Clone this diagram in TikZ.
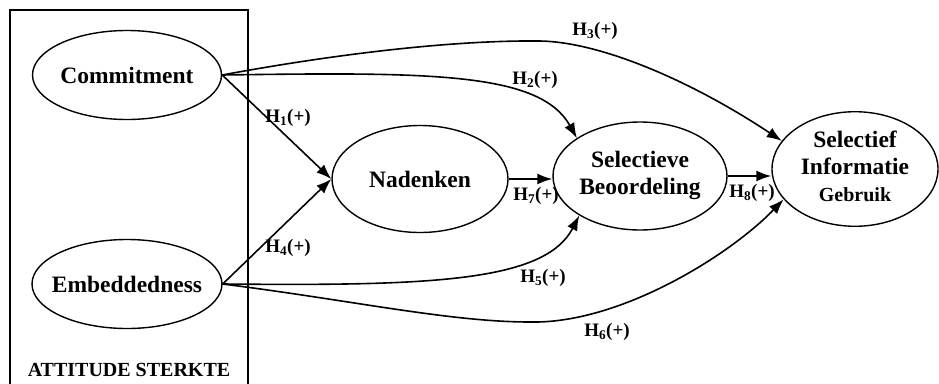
\documentclass[tikz,border=0pt]{standalone}
\usepackage{fontspec}
\setmainfont{Liberation Serif}
\usetikzlibrary{shapes.geometric,arrows.meta}
\begin{document}
\begin{tikzpicture}[x=1pt,y=-1pt,
  ell/.style={ellipse,draw,line width=1.4pt,inner sep=0pt,font=\fontsize{23.5}{27}\selectfont\bfseries},
  hyp/.style={font=\fontsize{19}{22}\selectfont\bfseries,inner sep=0pt},
  arr/.style={line width=1.6pt,-{Latex[length=15pt,width=11pt]}},
  frame/.style={line width=1.3pt}]
\useasboundingbox (0,0) rectangle (939,383);
\fill[white] (0,0) rectangle (939,383);
% group frame
\draw[frame] (10,395) -- (10,10) -- (248,10) -- (248,395);
\node[font=\fontsize{20}{24}\selectfont\bfseries,inner sep=0pt] (grp) at (129,370) {ATTITUDE STERKTE};
% constructs
\node[ell,minimum width=189pt,minimum height=89pt] (C) at (127,75) {\makebox[0pt]{Commitment}};
\node[ell,minimum width=190pt,minimum height=89pt] (E) at (127,284) {\makebox[0pt]{Embeddedness}};
\node[ell,minimum width=176pt,minimum height=107pt] (N) at (420,179) {\makebox[0pt]{Nadenken}};
\node[ell,minimum width=174pt,minimum height=108pt] (S) at (640,176) {\makebox[0pt]{\begin{tabular}{@{}c@{}}Selectieve\\Beoordeling\end{tabular}}};
\node[ell,minimum width=166pt,minimum height=108pt] (I) at (855,169) {\makebox[0pt]{\begin{tabular}{@{}c@{}}Selectief\\Informatie\\{\fontsize{20}{24}\selectfont Gebruik}\end{tabular}}};
% connectors
\draw[arr] (C.east) -- (N.west);
\draw[arr] (E.east) -- (N.west);
\draw[arr] (N.east) -- (N.east -| S.west);
\draw[arr] (S.east) -- (S.east -| I.west);
\draw[arr] (C.east) .. controls (430,72) and (540,72) .. (S.149);
\draw[arr] (E.east) .. controls (430,286) and (545,282) .. (S.213);
\draw[arr] (C.east) .. controls (330,55) and (450,40) .. (540,41) .. controls (600,42) and (690,80) .. (I.159);
\draw[arr] (E.east) .. controls (350,300) and (450,322) .. (530,322) .. controls (620,324) and (730,255) .. (I.203);
% labels
\node[hyp] (l1) at (288,118) {H\textsubscript{1}(+)};
\node[hyp] (l4) at (288,248) {H\textsubscript{4}(+)};
\node[hyp] (l2) at (535,80) {H\textsubscript{2}(+)};
\node[hyp] (l3) at (595,31) {H\textsubscript{3}(+)};
\node[hyp] (l7) at (536,196) {H\textsubscript{7}(+)};
\node[hyp] (l5) at (543,278) {H\textsubscript{5}(+)};
\node[hyp] (l6) at (607,332) {H\textsubscript{6}(+)};
\node[hyp] (l8) at (752,193) {H\textsubscript{8}(+)};
\end{tikzpicture}
\end{document}
